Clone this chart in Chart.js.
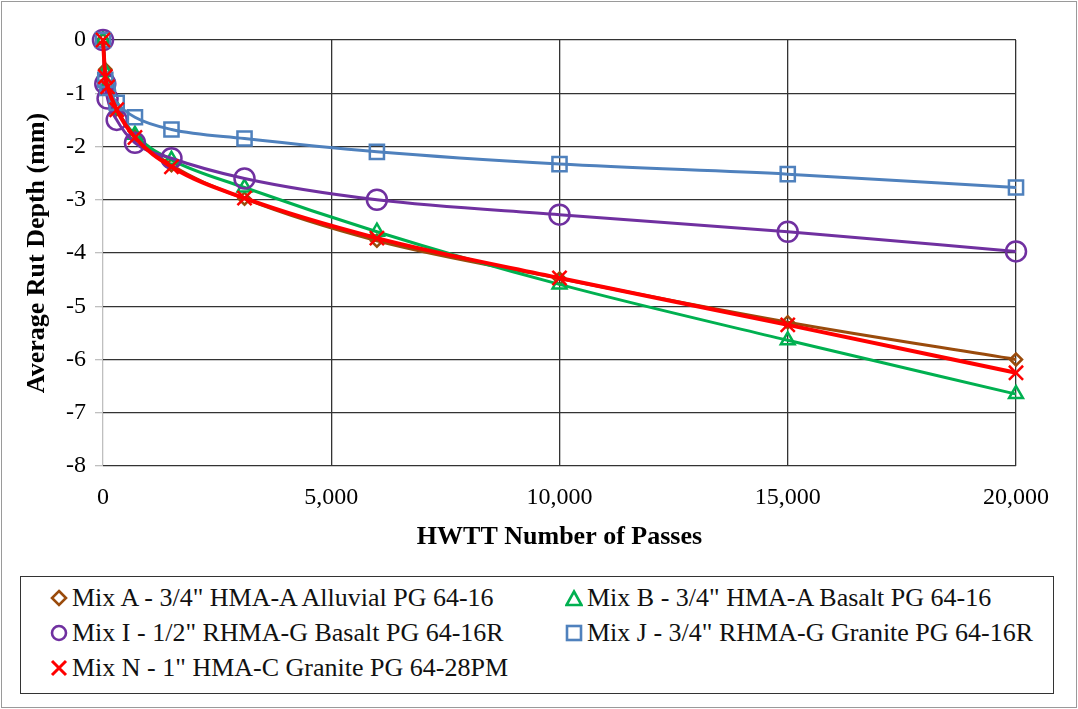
<!DOCTYPE html>
<html>
<head>
<meta charset="utf-8">
<script src="https://cdn.jsdelivr.net/npm/chart.js@4.4.1/dist/chart.umd.min.js"></script>
<style>
  html, body { margin: 0; padding: 0; background: #fff; }
  #frame { position: absolute; left: 1px; top: 1px; width: 1076px; height: 707px; border: 1px solid #9a9a9a; box-sizing: border-box; }
  #wrap { position: absolute; left: 0; top: 0; width: 1078px; height: 560px; }
  #legend { position: absolute; left: 20px; top: 576px; width: 1034px; height: 118px; border: 1.5px solid #333; box-sizing: border-box;
            font-family: "Liberation Serif", "DejaVu Serif", serif; font-size: 26px; color: #111; }
  .item { position: absolute; height: 30px; display: flex; align-items: center; white-space: nowrap; }
  .item svg { margin-right: 4px; }
</style>
</head>
<body>
<div id="frame"></div>
<div id="wrap"><canvas id="c"></canvas></div>
<div id="legend"></div>
<script>
const passes = [0, 50, 100, 300, 700, 1500, 3100, 6000, 10000, 15000, 20000];
const mixA = [0, -0.55, -0.85, -1.3, -1.8, -2.35, -2.98, -3.77, -4.48, -5.3, -6.0];
const mixB = [0, -0.6, -0.85, -1.3, -1.78, -2.25, -2.77, -3.6, -4.59, -5.64, -6.65];
const mixI = [0, -0.82, -1.1, -1.5, -1.93, -2.22, -2.6, -3.0, -3.28, -3.6, -3.97];
const mixJ = [0, -0.75, -0.9, -1.18, -1.45, -1.68, -1.85, -2.1, -2.33, -2.52, -2.77];
const mixN = [0, -0.69, -0.88, -1.31, -1.83, -2.38, -2.97, -3.72, -4.47, -5.35, -6.25];
const seriesNames = [
  'Mix A - 3/4" HMA-A Alluvial PG 64-16',
  'Mix B - 3/4" HMA-A Basalt PG 64-16',
  'Mix I - 1/2" RHMA-G Basalt PG 64-16R',
  'Mix J - 3/4" RHMA-G Granite PG 64-16R',
  'Mix N - 1" HMA-C Granite PG 64-28PM'
];
const yTicks = [0, -1, -2, -3, -4, -5, -6, -7, -8];
const xTicks = [0, 5000, 10000, 15000, 20000];

const colors = ['#9A4B0C', '#00B050', '#7030A0', '#4F81BD', '#FF0000'];
const styles = ['rectRot', 'triangle', 'circle', 'rect', 'crossRot'];
const radii = [6, 8, 10, 10, 10];
const widths = [3, 3, 3, 3, 4];
const orders = [4, 3, 2, 1, 0];
const allData = [mixA, mixB, mixI, mixJ, mixN];

const datasets = allData.map((arr, i) => ({
  label: seriesNames[i],
  data: passes.map((p, k) => ({ x: p, y: arr[k] })),
  borderColor: colors[i],
  backgroundColor: 'rgba(0,0,0,0)',
  pointBackgroundColor: 'rgba(0,0,0,0)',
  pointBorderColor: colors[i],
  pointStyle: styles[i],
  pointRadius: radii[i],
  pointBorderWidth: 2.5,
  borderWidth: widths[i],
  cubicInterpolationMode: 'monotone',
  clip: false,
  order: orders[i]
}));

const font = "'Liberation Serif', 'DejaVu Serif', serif";

new Chart(document.getElementById('c'), {
  type: 'line',
  data: { datasets },
  options: {
    responsive: true,
    maintainAspectRatio: false,
    animation: false,
    layout: { padding: { top: 40, right: 62, left: 0, bottom: 0 } },
    plugins: { legend: { display: false }, tooltip: { enabled: false } },
    scales: {
      x: {
        type: 'linear',
        min: 0, max: 20000,
        afterBuildTicks: s => { s.ticks = xTicks.map(v => ({ value: v })); },
        afterFit: s => { s.height = 94; },
        ticks: {
          color: '#000', padding: 9,
          font: { family: font, size: 24 },
          maxRotation: 0,
          callback: v => v.toLocaleString('en-US')
        },
        grid: {
          color: ctx => ctx.index === 0 ? '#bfbfbf' : '#333',
          lineWidth: 1.3,
          tickLength: 8,
          tickColor: 'rgba(0,0,0,0)'
        },
        border: { display: false },
        title: {
          display: true, text: 'HWTT Number of Passes', color: '#000',
          font: { family: font, size: 26, weight: 'bold' },
          padding: { top: 2, bottom: 7 }
        }
      },
      y: {
        type: 'linear',
        min: -8, max: 0,
        afterBuildTicks: s => { s.ticks = yTicks.map(v => ({ value: v })); },
        afterFit: s => { s.width = 103; },
        ticks: {
          color: '#000', padding: 9,
          font: { family: font, size: 24 }
        },
        grid: {
          color: '#333',
          lineWidth: 1.3,
          tickLength: 8,
          tickColor: '#bfbfbf'
        },
        border: { display: false },
        title: {
          display: true, text: 'Average Rut Depth (mm)', color: '#000',
          font: { family: font, size: 26, weight: 'bold' },
          padding: { top: 22, bottom: 0 }
        }
      }
    }
  }
});

// HTML legend
const legend = document.getElementById('legend');
const pos = [[29, 598], [544, 598], [29, 633], [544, 633], [29, 668]];
function markerSvg(i) {
  const c = colors[i];
  let shape = '';
  if (i === 0) shape = `<polygon points="9,2 16,9 9,16 2,9" fill="none" stroke="${c}" stroke-width="2.6"/>`;
  if (i === 1) shape = `<polygon points="9,2.5 16.5,16 1.5,16" fill="none" stroke="${c}" stroke-width="2.6"/>`;
  if (i === 2) shape = `<circle cx="9" cy="9" r="7" fill="none" stroke="${c}" stroke-width="2.6"/>`;
  if (i === 3) shape = `<rect x="2" y="2" width="14" height="14" fill="none" stroke="${c}" stroke-width="2.6"/>`;
  if (i === 4) shape = `<path d="M2,2 L16,16 M16,2 L2,16" stroke="${c}" stroke-width="3"/>`;
  return `<svg width="18" height="18" viewBox="0 0 18 18">${shape}</svg>`;
}
seriesNames.forEach((n, i) => {
  const d = document.createElement('div');
  d.className = 'item';
  d.style.left = pos[i][0] + 'px';
  d.style.top = (pos[i][1] - 15 - 577.5) + 'px';
  d.innerHTML = markerSvg(i) + '<span></span>';
  d.querySelector('span').textContent = n;
  legend.appendChild(d);
});
</script>
</body>
</html>
